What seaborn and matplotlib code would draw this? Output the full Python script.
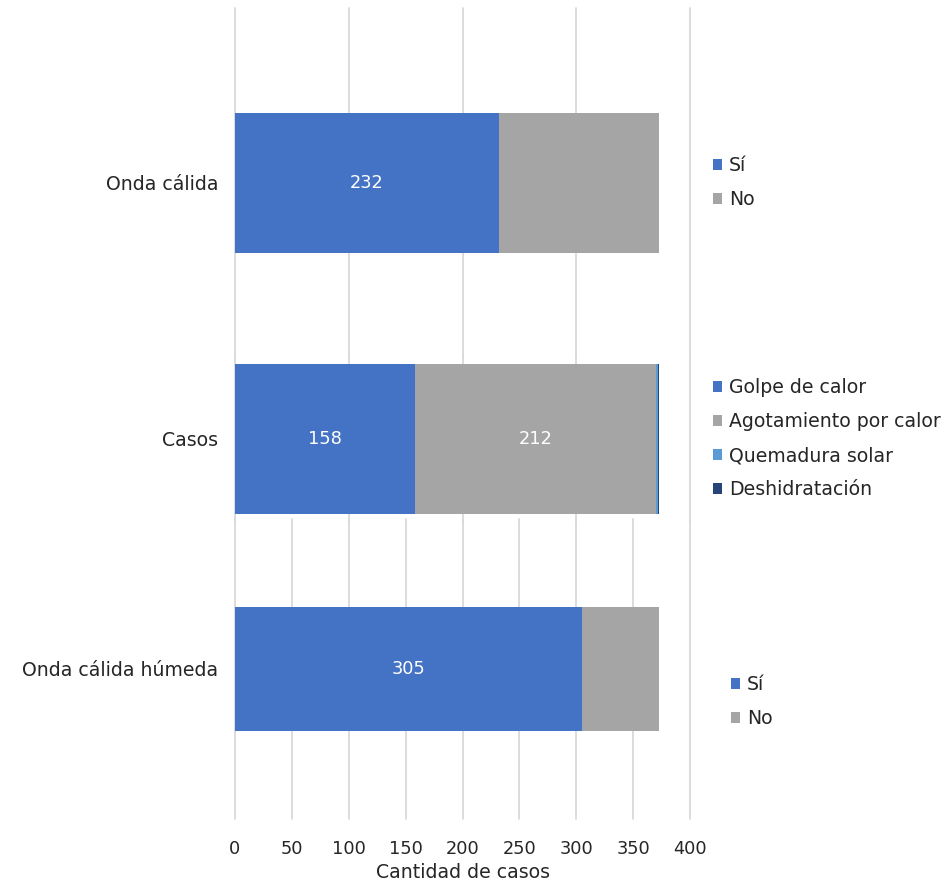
import numpy as np
import pandas as pd
import seaborn as sns
import matplotlib.pyplot as plt
from matplotlib.patches import Patch

# data
onda_labels = ["Sí", "No"]
onda_values = [232, 141]

casos_labels = ["Golpe de calor", "Agotamiento por calor", "Quemadura solar", "Deshidratación"]
casos_values = [158, 212, 2, 1]

humeda_labels = ["Sí", "No"]
humeda_values = [305, 68]

BLUE, GRAY, LBLUE, DBLUE = "#4472C4", "#A5A5A5", "#5B9BD5", "#264478"
GRID = "#D9D9D9"

sns.set_theme(style="white")
plt.rcParams["font.family"] = ["DejaVu Sans"]
plt.rcParams["text.color"] = "#262626"

fig = plt.figure(figsize=(9.5, 8.86), dpi=100)
W, H = 950, 886
FS = 12.8    # numbers
FL = 13.6    # words


def px_axes(top, bottom):
    # axes rectangle from pixel rows
    return fig.add_axes([235 / W, 1 - bottom / H, 455 / W, (bottom - top) / H])


def stacked(ax, name, values, colors, width, labelled, step):
    cum = np.cumsum(values)
    # draw longest first so shorter segments sit on top
    for i in range(len(values) - 1, -1, -1):
        sns.barplot(x=[cum[i]], y=[name], color=colors[i], width=width,
                    orient="h", ax=ax, saturation=1, linewidth=0)
    left = 0
    for v, lab in zip(values, labelled):
        if lab:
            ax.text(left + v / 2, 0, str(v), color="white", ha="center",
                    va="center", fontsize=FS)
        left += v
    ax.set_xlim(0, 400)
    ax.set_xticks(np.arange(0, 401, step))
    ax.grid(axis="x", color=GRID, linewidth=1.3)
    for gl in ax.get_xgridlines():
        gl.set_clip_on(False)
    ax.set_axisbelow(True)
    ax.set_facecolor("none")
    for s in ax.spines.values():
        s.set_visible(False)
    ax.set_ylabel("")
    ax.set_xlabel("")
    ax.tick_params(axis="y", length=0, pad=12, labelsize=FL, labelcolor="#262626")
    ax.tick_params(axis="x", length=0, labelbottom=False)


ax1 = px_axes(8, 358)
stacked(ax1, "Onda cálida", onda_values, [BLUE, GRAY], 0.4, [True, False], 100)

ax2 = px_axes(355, 523)
stacked(ax2, "Casos", casos_values, [BLUE, GRAY, LBLUE, DBLUE], 0.89,
        [True, True, False, False], 100)

ax3 = px_axes(519, 819)
stacked(ax3, "Onda cálida húmeda", humeda_values, [BLUE, GRAY], 0.413, [True, False], 50)
ax3.tick_params(axis="x", labelbottom=True, labelsize=FS, pad=15, labelcolor="#262626")
ax3.set_xlabel("Cantidad de casos", fontsize=FL, labelpad=4, color="#262626")


def legend(labels, colors, x, y):
    handles = [Patch(facecolor=c, edgecolor="none") for c in colors]
    fig.legend(handles, labels, loc="upper left", bbox_to_anchor=(x / W, 1 - y / H),
               frameon=False, fontsize=FL, handlelength=0.5, handleheight=0.5,
               handletextpad=0.35, labelspacing=0.8, borderaxespad=0, borderpad=0)


legend(onda_labels, [BLUE, GRAY], 713, 156)
legend(casos_labels, [BLUE, GRAY, LBLUE, DBLUE], 713, 378)
legend(humeda_labels, [BLUE, GRAY], 731, 675)

fig.savefig("out.png", dpi=100)
